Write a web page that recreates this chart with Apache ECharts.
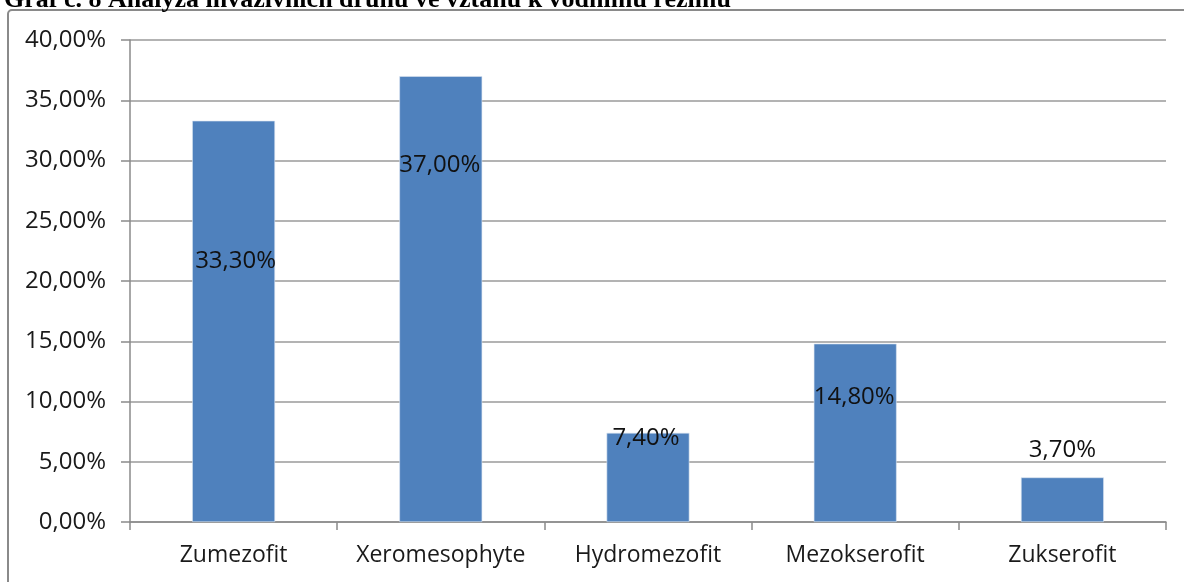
<!DOCTYPE html>
<html>
<head>
<meta charset="utf-8">
<script src="https://cdn.jsdelivr.net/npm/echarts@6/dist/echarts.min.js"></script>
<style>
  html, body { margin: 0; padding: 0; background: #fff; }
  #chart { width: 1184px; height: 582px; }
</style>
</head>
<body>
<div id="chart"></div>
<script>
// Graf č. 8 – podíl invazivních druhů podle vztahu k vodnímu režimu
const titleText = 'Graf č. 8 Analýza invazivních druhů ve vztahu k vodnímu režimu';
const categories = ['Zumezofit', 'Xeromesophyte', 'Hydromezofit', 'Mezokserofit', 'Zukserofit'];
const shares = [33.3, 37.0, 7.4, 14.8, 3.7];

// per-bar placement of the value labels: [dx from bar centre, dy from bar top]
const labelPlacement = [[2, 140], [-1, 89], [-2, 5], [-1, 53], [0, -27]];

const pct = v => v.toFixed(2).replace('.', ',') + '%';
const FONT = '"Open Sans", "Noto Sans", sans-serif';

const chart = echarts.init(document.getElementById('chart'), null, { renderer: 'canvas' });

chart.setOption({
  backgroundColor: '#ffffff',
  animation: false,
  graphic: [
    {
      type: 'rect',
      shape: { x: 8, y: 10, width: 1220, height: 620, r: 4 },
      style: { fill: 'none', stroke: '#8a8a8a', lineWidth: 2 },
      z: 0
    },
    {
      type: 'text',
      x: 4, y: 13,
      style: {
        text: titleText,
        font: 'bold 26px "Liberation Serif", "DejaVu Serif", serif',
        fill: '#000',
        verticalAlign: 'bottom'
      },
      z: 10
    }
  ],
  grid: { left: 130, right: 18, top: 40, bottom: 60 },
  xAxis: {
    type: 'category',
    data: categories,
    boundaryGap: true,
    axisLine: { show: true, lineStyle: { color: '#8a8a8a', width: 1.5 } },
    axisTick: { show: true, interval: 0, length: 8, lineStyle: { color: '#8a8a8a', width: 1.5 } },
    axisLabel: { interval: 0, margin: 22, color: '#1a1a1a', fontSize: 23, fontFamily: FONT },
    splitLine: { show: false }
  },
  yAxis: {
    type: 'value',
    min: 0, max: 40, interval: 5,
    axisLine: { show: true, lineStyle: { color: '#8a8a8a', width: 1.5 } },
    axisTick: { show: true, length: 9, lineStyle: { color: '#8a8a8a', width: 1.5 } },
    axisLabel: { margin: 24, color: '#1a1a1a', fontSize: 24, fontFamily: FONT, formatter: pct },
    splitLine: { show: true, lineStyle: { color: '#9a9a9a', width: 1.5 } }
  },
  series: [{
    type: 'bar',
    barWidth: '40%',
    itemStyle: { color: '#4f81bd', borderColor: '#dbe5f1', borderWidth: 0.6 },
    data: shares.map((v, i) => ({
      value: v,
      label: {
        show: true,
        position: ['50%', labelPlacement[i][1]],
        offset: [labelPlacement[i][0], 0],
        align: 'center',
        verticalAlign: 'middle',
        formatter: p => pct(p.value),
        color: '#111',
        fontSize: 24,
        fontFamily: FONT
      }
    }))
  }]
});
</script>
</body>
</html>
